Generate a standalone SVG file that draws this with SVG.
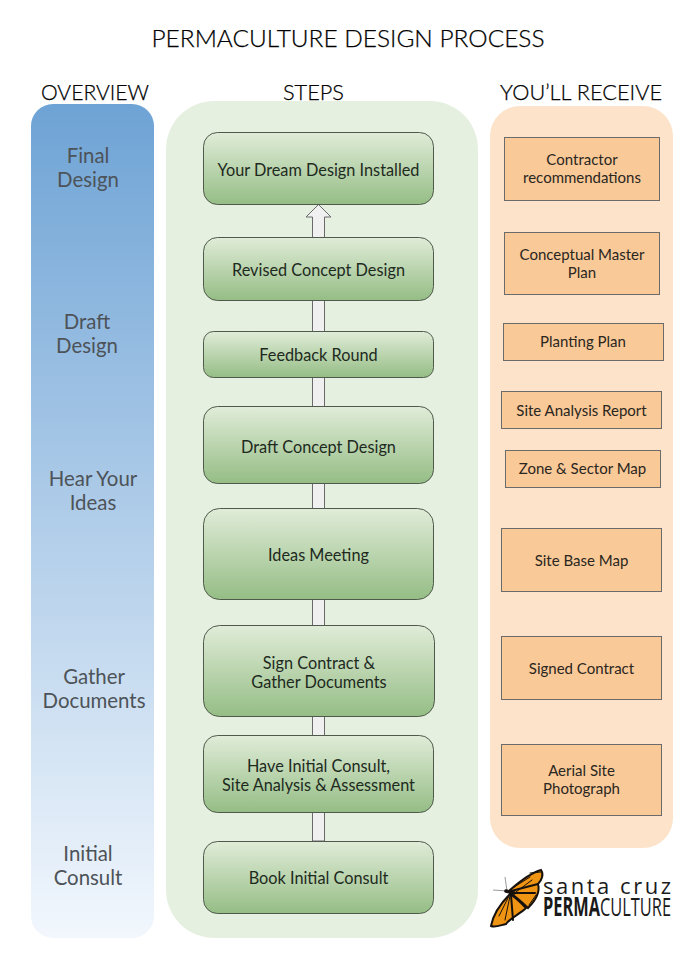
<svg xmlns="http://www.w3.org/2000/svg" width="696" height="959" viewBox="0 0 696 959">
<style>
text{font-family:Lato,"Open Sans",sans-serif;text-anchor:middle}
.h{font-size:22px;font-weight:300;fill:#000;stroke:#000;stroke-width:.25}
.s{font-size:16.300px;fill:#1e2a1e}
.o{font-size:20.400px;fill:#4d5358}
.r{font-size:15px;fill:#2a2620}
.n{fill:url(#g);stroke:#4f5a4c;stroke-width:1}
.b{fill:#f9c998;stroke:#6b6b6b;stroke-width:1}
.k{fill:none;stroke:#17110d;stroke-linecap:round}
.l{font-family:'Open Sans',sans-serif;fill:#1a1a1a;text-anchor:start}
</style>
<defs>
<linearGradient id="g" x1="0" y1="0" x2="0" y2="1"><stop offset="0" stop-color="#e0ecd8"/><stop offset="1" stop-color="#95bd85"/></linearGradient>
<linearGradient id="blue" x1="0" y1="0" x2="0" y2="1"><stop offset="0" stop-color="#6ea3d5"/><stop offset="1" stop-color="#f2f7fd"/></linearGradient>
</defs>
<text class="h" x="348" y="47" textLength="393" lengthAdjust="spacingAndGlyphs" style="font-size:24px">PERMACULTURE DESIGN PROCESS</text>
<text class="h" x="95" y="100" textLength="108" lengthAdjust="spacingAndGlyphs">OVERVIEW</text>
<text class="h" x="313.500" y="100" textLength="61" lengthAdjust="spacingAndGlyphs">STEPS</text>
<text class="h" x="581" y="100" textLength="162" lengthAdjust="spacingAndGlyphs">YOU’LL RECEIVE</text>
<g id="overview-band">
<rect x="31" y="104" width="123" height="834" rx="22" fill="url(#blue)"/>
<text class="o"><tspan x="88" y="162.500">Final</tspan><tspan x="88" y="186.500">Design</tspan></text>
<text class="o"><tspan x="87" y="328.500">Draft</tspan><tspan x="87" y="352.500">Design</tspan></text>
<text class="o"><tspan x="93" y="485.500">Hear Your</tspan><tspan x="93" y="509.500">Ideas</tspan></text>
<text class="o"><tspan x="94" y="683.500">Gather</tspan><tspan x="94" y="707.500">Documents</tspan></text>
<text class="o"><tspan x="88" y="860.500">Initial</tspan><tspan x="88" y="884.500">Consult</tspan></text>
</g>
<rect id="steps-band" x="166" y="101" width="312" height="837" rx="48" fill="#e6f0e0"/>
<rect id="receive-band" x="490" y="106" width="183" height="742" rx="30" fill="#fce3c9"/>
<g id="connectors">
<path d="M312.500 841V217H306L318.500 204.500L331 217H324.500V841Z" fill="#f0f0f0" stroke="#6a6a6a" stroke-width="1"/>
</g>
<g id="n1"><rect class="n" x="203.500" y="132.500" width="230" height="72" rx="14"/><text class="s" x="318.500" y="175.500">Your Dream Design Installed</text></g>
<g id="n2"><rect class="n" x="203.500" y="237.500" width="230" height="63" rx="14"/><text class="s" x="318.500" y="275.500">Revised Concept Design</text></g>
<g id="n3"><rect class="n" x="203.500" y="331.500" width="230" height="46" rx="10"/><text class="s" x="318.500" y="360.500">Feedback Round</text></g>
<g id="n4"><rect class="n" x="203.500" y="406.500" width="230" height="77" rx="14"/><text class="s" x="318.500" y="452.500">Draft Concept Design</text></g>
<g id="n5"><rect class="n" x="203.500" y="508.500" width="230" height="91" rx="16"/><text class="s" x="318.500" y="560.500">Ideas Meeting</text></g>
<g id="n6"><rect class="n" x="203.500" y="625.500" width="231" height="91" rx="16"/><text class="s"><tspan x="319" y="668.500">Sign Contract &amp;</tspan><tspan x="319" y="687.500">Gather Documents</tspan></text></g>
<g id="n7"><rect class="n" x="203.500" y="735.500" width="230" height="77" rx="14"/><text class="s"><tspan x="318.500" y="771.500">Have Initial Consult,</tspan><tspan x="318.500" y="790.500">Site Analysis &amp; Assessment</tspan></text></g>
<g id="n8"><rect class="n" x="203.500" y="841.500" width="230" height="72" rx="14"/><text class="s" x="318.500" y="883.500">Book Initial Consult</text></g>
<g id="r1"><rect class="b" x="504.500" y="137.500" width="155" height="63"/><text class="r"><tspan x="582" y="165">Contractor</tspan><tspan x="582" y="183">recommendations</tspan></text></g>
<g id="r2"><rect class="b" x="504.500" y="232.500" width="155" height="62"/><text class="r"><tspan x="582" y="260">Conceptual Master</tspan><tspan x="582" y="278">Plan</tspan></text></g>
<g id="r3"><rect class="b" x="503.500" y="323.500" width="160" height="37"/><text class="r" x="583" y="347">Planting Plan</text></g>
<g id="r4"><rect class="b" x="501.500" y="391.500" width="160" height="37"/><text class="r" x="581.500" y="416">Site Analysis Report</text></g>
<g id="r5"><rect class="b" x="505.500" y="450.500" width="155" height="37"/><text class="r" x="582.500" y="474">Zone &amp; Sector Map</text></g>
<g id="r6"><rect class="b" x="501.500" y="528.500" width="160" height="63"/><text class="r" x="581.500" y="566">Site Base Map</text></g>
<g id="r7"><rect class="b" x="501.500" y="636.500" width="160" height="63"/><text class="r" x="581.500" y="674">Signed Contract</text></g>
<g id="r8"><rect class="b" x="501.500" y="744.500" width="160" height="71"/><text class="r"><tspan x="581.500" y="776">Aerial Site</tspan><tspan x="581.500" y="794">Photograph</tspan></text></g>
<g id="logo">
<path d="M508 891L493 890M507 891L505 877" stroke="#9a9a9a" stroke-width="1" fill="none"/>
<path d="M510 890C518 883 530 873 541 870C544 874 542 880 538 884C540 891 536 900 528 908C521 901 515 896 510 893Z" fill="#ef9413" stroke="#17110d" stroke-width="2"/>
<path d="M510 894C501 903 493 915 491 926C495 928 501 925 506 924C510 918 520 914 526 908C520 902 515 897 510 894Z" fill="#ef9413" stroke="#17110d" stroke-width="2"/>
<path class="k" stroke-width="2" d="M511 891L538 884M511 893L535 893M511 895L513 920"/>
<path class="k" stroke-width="1" d="M511 889L530 877M516 892L532 880M512 895L525 906M509 896L499 916M510 896L505 920M530 873L541 872M536 895L529 905"/>
<path class="k" stroke-width="3.500" d="M506 891L514 893"/>
<text class="l" x="543" y="893.500" textLength="128" lengthAdjust="spacing" style="font-size:22px">santa cruz</text>
<text class="l" x="543" y="916" textLength="128" lengthAdjust="spacingAndGlyphs" style="font-size:26px"><tspan font-weight="700">PERMA</tspan><tspan font-weight="400">CULTURE</tspan></text>
</g>
</svg>
